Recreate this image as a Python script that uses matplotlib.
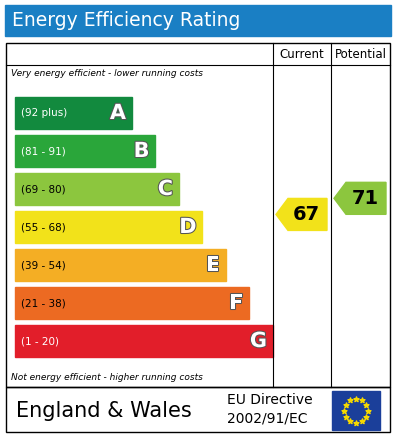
import matplotlib
matplotlib.use("Agg")
import matplotlib.pyplot as plt
from matplotlib.patches import Rectangle, Polygon
import matplotlib.patheffects as pe
import numpy as np

letters = ["A", "B", "C", "D", "E", "F", "G"]
ranges = ["(92 plus)", "(81 - 91)", "(69 - 80)", "(55 - 68)", "(39 - 54)", "(21 - 38)", "(1 - 20)"]
colors = ["#128a3e", "#2aa63a", "#8cc63e", "#f2e21a", "#f4ae24", "#ec6a22", "#e21e2a"]
lower_bounds = [92, 81, 69, 55, 39, 21, 1]
upper_bounds = [100, 91, 80, 68, 54, 38, 20]
current = 67
potential = 71

W, H = 410, 437
fig = plt.figure(figsize=(W/100, H/100), dpi=100)
ax = fig.add_axes([0, 0, 1, 1])
ax.set_xlim(0, W); ax.set_ylim(H, 0); ax.axis("off")

ax.add_patch(Rectangle((5, 5), 386, 31, color="#1a7fc4"))
ax.text(12, 21, "Energy Efficiency Rating", color="white", fontsize=13.5, va="center", ha="left")

ax.add_patch(Rectangle((6, 43), 384, 344, fill=False, lw=1, ec="black"))
ax.plot([273, 273], [43, 387], color="black", lw=0.8)
ax.plot([331, 331], [43, 387], color="black", lw=0.8)
ax.plot([6, 390], [65, 65], color="black", lw=0.8)
ax.text(302, 55, "Current", ha="center", va="center", fontsize=8.5)
ax.text(361, 55, "Potential", ha="center", va="center", fontsize=8.5)
ax.text(11, 73, "Very energy efficient - lower running costs", fontsize=6.5, style="italic", va="center")
ax.text(11, 378, "Not energy efficient - higher running costs", fontsize=6.5, style="italic", va="center")

top0, step, bh = 97, 38, 32
for i, (l, r, c) in enumerate(zip(letters, ranges, colors)):
    y = top0 + i*step
    w = 117 + i*23.5
    ax.add_patch(Rectangle((15, y), w, bh, color=c))
    ax.text(21, y+bh/2, r, fontsize=7.5, va="center", color="white" if i in (0, 1, 6) else "black")
    ax.text(15+w-6, y+bh/2, l, fontsize=15, fontweight="bold", va="center", ha="right",
            color="white", path_effects=[pe.withStroke(linewidth=1.5, foreground="#555555")])

def band(v):
    for i, lb in enumerate(lower_bounds):
        if v >= lb:
            return i
    return 6

def arrow(x0, x1, v):
    i = band(v)
    frac = (upper_bounds[i] - v + 0.5) / (upper_bounds[i] - lower_bounds[i] + 1)
    yc = top0 + i*step + frac*bh
    h = 32
    pts = [(x0, yc), (x0+12, yc-h/2), (x1, yc-h/2), (x1, yc+h/2), (x0+12, yc+h/2)]
    ax.add_patch(Polygon(pts, closed=True, color=colors[i]))
    ax.text((x0+x1)/2+5, yc, str(v), fontsize=14, fontweight="bold", ha="center", va="center")

arrow(276, 327, current)
arrow(334, 386, potential)

ax.add_patch(Rectangle((6, 387), 384, 45, fill=False, lw=1, ec="black"))
ax.text(16, 411, "England & Wales", fontsize=15, va="center")
ax.text(227, 400, "EU Directive", fontsize=10, va="center")
ax.text(227, 419, "2002/91/EC", fontsize=10, va="center")
ax.add_patch(Rectangle((332, 391), 48, 39, color="#1b3f9a"))
ang = np.linspace(0, 2*np.pi, 13)[:-1]
ax.scatter(356+12*np.cos(ang), 410.5+12*np.sin(ang), marker="*", s=14, color="#f5d800", zorder=5)

fig.savefig("out.png", dpi=100)
